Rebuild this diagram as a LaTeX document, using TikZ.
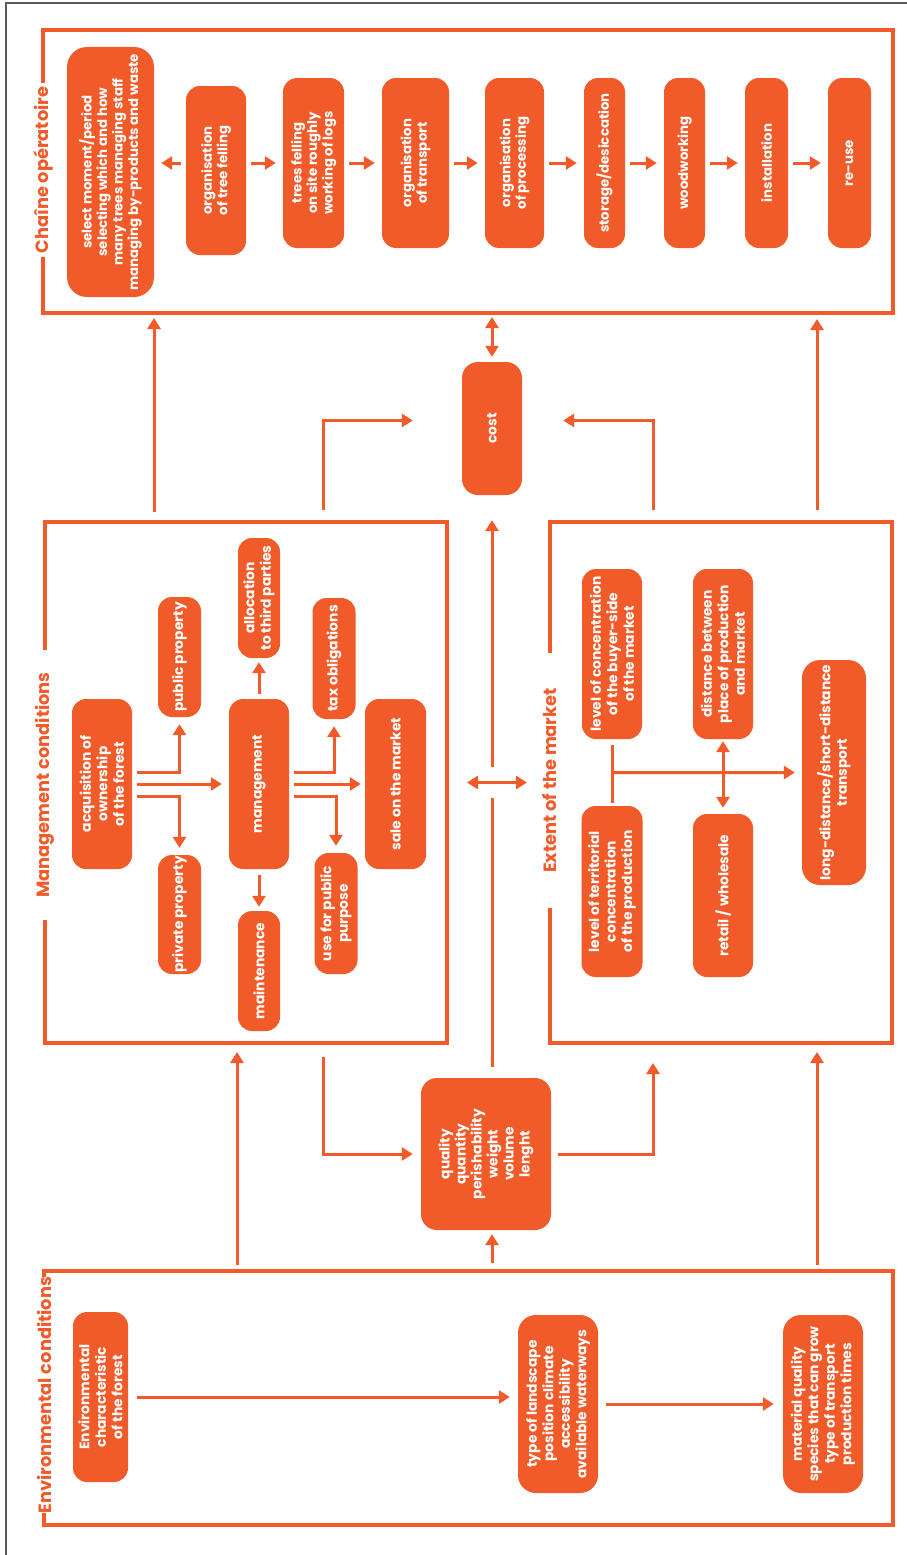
\documentclass[tikz,border=0pt]{standalone}
\usepackage{fontspec}
\setmainfont{Poppins}
\usetikzlibrary{arrows.meta,calc}
\definecolor{org}{RGB}{241,90,41}
\begin{document}
\begin{tikzpicture}[x=1pt,y=-1pt,
  box/.style={fill=org, draw=none, rounded corners=14pt, text=white, align=center, rotate=90, inner sep=0pt,
    font=\bfseries\fontsize{13.8}{16.5}\selectfont},
  cbox/.style={box, font=\bfseries\fontsize{13.3}{15.5}\selectfont},
  frame/.style={draw=org, line width=4pt, fill=none, inner sep=0pt},
  title/.style={text=org, fill=white, rotate=90, inner sep=0pt, font=\bfseries\fontsize{17.8}{20}\selectfont},
  conn/.style={draw=org, line width=3pt},
  arr/.style={conn, -{Triangle[length=11pt,width=13pt]}},
  darr/.style={conn, {Triangle[length=11pt,width=13pt]}-{Triangle[length=11pt,width=13pt]}},
  carr/.style={arr, shorten <=5pt, shorten >=7pt}
]
\useasboundingbox (0,0) rectangle (907,1555);
\fill[white] (0,0) rectangle (907,1555);
\draw[gray!70!black, line width=1.5pt] (6,1555) -- (6,3) -- (907,3);

% frames
\node[frame, minimum width=850pt, minimum height=283pt] (chaine) at (468,171.5) {};
\node[frame, minimum width=402pt, minimum height=521pt] (mgmt) at (246,782.5) {};
\node[frame, minimum width=342pt, minimum height=521pt] (market) at (721,782.5) {};
\node[frame, minimum width=849pt, minimum height=254pt] (env) at (468.5,1398) {};

% titles
\node[title, minimum width=174pt] (tchaine) at (43,170) {Chaîne opératoire};
\node[title, minimum width=270pt] (tmgmt) at (45,785) {Management conditions};
\node[title, minimum width=255pt] (tmarket) at (550,780.5) {Extent of the market};
\node[title, minimum width=234pt] (tenv) at (44,1395) {Environmental conditions};

% chaine operatoire nodes
\node[cbox, minimum width=250pt, minimum height=87pt, rounded corners=20pt] (c1) at (110.5,172) {select moment/period\\selecting which and how\\many trees managing staff\\managing by-products and waste};
\node[cbox, minimum width=169pt, minimum height=60pt] (c2) at (216,170.5) {organisation\\of tree felling};
\node[cbox, minimum width=170pt, minimum height=61pt] (c3) at (313.5,163) {trees felling\\on site roughly\\working of logs};
\node[cbox, minimum width=170pt, minimum height=67pt] (c4) at (415.5,163) {organisation\\of transport};
\node[cbox, minimum width=170pt, minimum height=59pt] (c5) at (514.5,163) {organisation\\of processing};
\node[cbox, minimum width=170pt, minimum height=41pt] (c6) at (604.5,163) {storage/desiccation};
\node[cbox, minimum width=170pt, minimum height=41pt] (c7) at (684.5,163) {woodworking};
\node[cbox, minimum width=170pt, minimum height=43pt] (c8) at (766.5,163) {installation};
\node[cbox, minimum width=170pt, minimum height=43pt] (c9) at (849.5,163) {re-use};

\draw[carr] (c2.north |- c3) -- (c1.south |- c3);
\draw[carr] (c2.south |- c3) -- (c3.north);
\draw[carr] (c3.south) -- (c4.north);
\draw[carr] (c4.south) -- (c5.north);
\draw[carr] (c5.south) -- (c6.north);
\draw[carr] (c6.south) -- (c7.north);
\draw[carr] (c7.south) -- (c8.north);
\draw[carr] (c8.south) -- (c9.north);

% cost and quality
\node[box, minimum width=133pt, minimum height=60pt, rounded corners=16pt] (cost) at (492,428.5) {cost};
\node[box, minimum width=152pt, minimum height=130pt, rounded corners=16pt, font=\bfseries\fontsize{13.8}{16}\selectfont] (qual) at (486,1154) {quality\\quantity\\perishability\\weight\\volume\\lenght};

% management nodes
\node[box, minimum width=170pt, minimum height=60pt] (acq) at (102,784) {acquisition of\\ownership\\of the forest};
\node[box, minimum width=120pt, minimum height=43pt] (pub) at (179.5,657) {public property};
\node[box, minimum width=119pt, minimum height=43pt] (priv) at (179.5,914.5) {private property};
\node[box, minimum width=170pt, minimum height=60pt] (man) at (259,784) {management};
\node[box, minimum width=120pt, minimum height=42pt] (alloc) at (259,598) {allocation\\to third parties};
\node[box, minimum width=120pt, minimum height=42pt] (maint) at (259,971) {maintenance};
\node[box, minimum width=121pt, minimum height=43pt] (tax) at (334,658.5) {tax obligations};
\node[box, minimum width=121pt, minimum height=43pt] (use) at (336,913.5) {use for public\\purpose};
\node[box, minimum width=170pt, minimum height=61pt] (sale) at (395.5,784) {sale on the market};

\draw[arr] ($(acq.south)+(5,-12)$) -| ($(pub.west)+(0,7)$);
\draw[arr, shorten <=5pt, shorten >=7pt] (acq) -- (man);
\draw[arr] ($(acq.south)+(5,12)$) -| ($(priv.east)+(0,-7)$);
\draw[arr] ($(man.south)+(5,-12)$) -| ($(tax.west)+(0,7)$);
\draw[arr, shorten <=5pt, shorten >=4pt] (man) -- (sale);
\draw[arr] ($(man.south)+(5,12)$) -| ($(use.east)+(0,-7)$);
\draw[arr, shorten <=5pt, shorten >=4pt] (man.east) -- (alloc.west);
\draw[arr, shorten <=6pt, shorten >=4pt] (man.west) -- (maint.east);

% market nodes
\node[box, minimum width=170pt, minimum height=60pt] (lc) at (612,654) {level of concentration\\of the buyer-side\\of the market};
\node[box, minimum width=171pt, minimum height=61pt] (lt) at (612,891.5) {level of territorial\\concentration\\of the production};
\node[box, minimum width=170pt, minimum height=60pt] (dist) at (723,654) {distance between\\place of production\\and market};
\node[box, minimum width=163pt, minimum height=60pt] (retail) at (723,895.5) {retail / wholesale};
\node[box, minimum width=225pt, minimum height=64pt, rounded corners=18pt] (ldt) at (834,772.5) {long-distance/short-distance\\transport};

\draw[conn, shorten <=6pt, shorten >=3pt] (lc.west) -- (lt.east);
\coordinate (jn) at ($(lc.west)!0.5!(lt.east)$);
\draw[arr, shorten >=7pt] (jn) -- (ldt.north);
\draw[darr, shorten <=2pt, shorten >=6pt] (dist.west) -- (retail.east);

% environmental nodes
\node[box, minimum width=170pt, minimum height=55pt] (ch) at (100.5,1397) {Environmental\\characteristic\\of the forest};
\node[box, minimum width=178pt, minimum height=80pt, rounded corners=18pt] (ty) at (558,1404) {type of landscape\\position climate\\accessibility\\available waterways};
\node[box, minimum width=178pt, minimum height=80pt, rounded corners=18pt] (mt) at (823,1404) {material quality\\species that can grow\\type of transport\\production times};

\draw[arr, shorten <=9pt, shorten >=8pt] (ch.south) -- (ch.south -| ty.north);
\draw[arr, shorten <=8pt, shorten >=9pt] (ty.south) -- (mt.north);

% columns for connectors between sections
\coordinate (colA) at (154,0);
\coordinate (colB) at (237,0);
\coordinate (colC) at (323,0);
\coordinate (colD) at (492,0);
\coordinate (colE) at (653,0);
\coordinate (colF) at (817,0);
\coordinate (gapB) at (492,798);
\coordinate (gapT) at (492,767);
\coordinate (costL) at ($(cost.north)+(-49,-8)$);
\coordinate (costR) at ($(cost.south)+(41,-8)$);

\draw[arr, shorten <=8pt, shorten >=3pt] (mgmt.north -| colA) -- (chaine.south -| colA);
\draw[arr, shorten <=10pt, shorten >=4pt] (market.north -| colF) -- (chaine.south -| colF);
\draw[darr, shorten <=5pt, shorten >=2pt] (cost.east) -- (chaine.south -| cost.east);
\draw[arr, shorten <=10pt] (mgmt.north -| colC) |- (costL);
\draw[arr, shorten <=10pt] (market.north -| colE) |- (costR);
\draw[darr, shorten <=18pt, shorten >=21pt] (mgmt.east) -- (market.west);
\draw[conn, shorten <=11pt] (qual.east -| colD) -- (gapB);
\draw[arr, shorten >=25pt] (gapT) -- (cost.west);
\draw[arr, shorten <=12pt, shorten >=8pt] (mgmt.south -| colC) |- (qual.north);
\draw[arr, shorten <=7pt, shorten >=18pt] (qual.south) -| (market.south -| colE);
\draw[arr, shorten <=4pt, shorten >=7pt] (env.north -| colB) -- (mgmt.south -| colB);
\draw[arr, shorten <=6pt, shorten >=4pt] (env.north -| colD) -- (qual.west -| colD);
\draw[arr, shorten <=4pt, shorten >=7pt] (env.north -| colF) -- (market.south -| colF);
\end{tikzpicture}
\end{document}
